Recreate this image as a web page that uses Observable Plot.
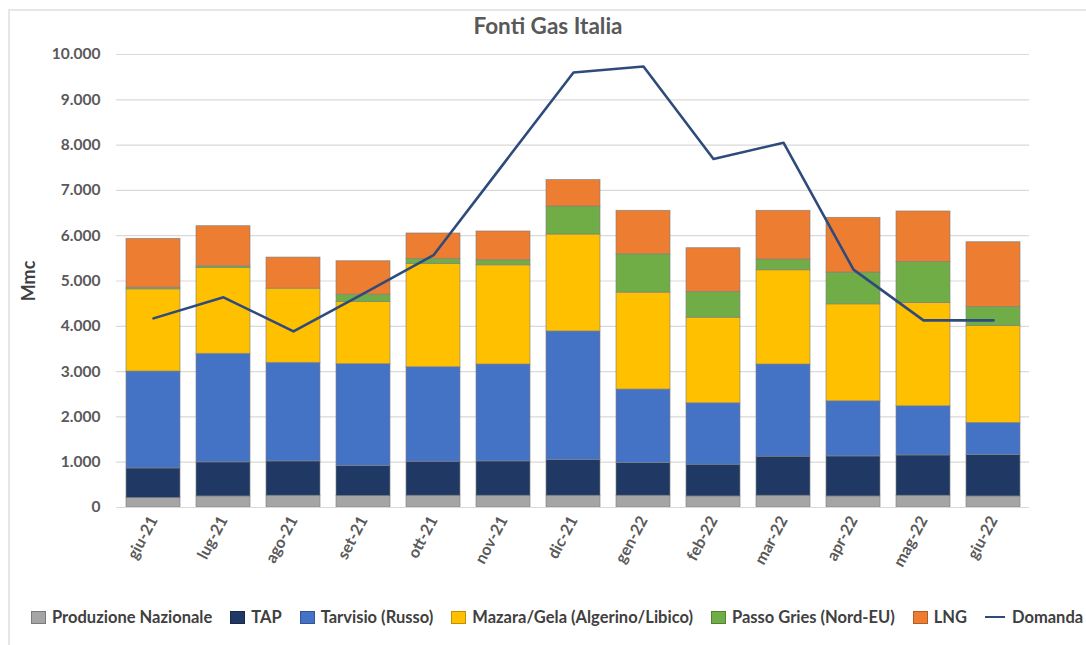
<!DOCTYPE html>
<html>
<head>
<meta charset="utf-8">
<script src="https://cdn.jsdelivr.net/npm/d3@7"></script>
<script src="https://cdn.jsdelivr.net/npm/@observablehq/plot@0.6"></script>
<style>
  html, body { margin: 0; padding: 0; background: #fff; }
  body { width: 1086px; height: 645px; overflow: hidden; font-family: Lato, "Open Sans", sans-serif; }
  #frame { position: absolute; left: 8px; top: 9px; width: 1100px; height: 700px;
           border-left: 2px solid #e6e6e6; border-top: 2px solid #e6e6e6; }
  #wrap { position: absolute; left: 0; top: 0; width: 1086px; }
  #title { height: 40px; line-height: 52px; text-align: center; font-weight: 700; font-size: 22.5px; color: #595959; padding-left: 10px; }
  #legend { position: absolute; left: 31px; top: 607px; display: flex; align-items: center;
            font-size: 16.5px; font-weight: 700; color: #404040; white-space: nowrap; }
  .item { display: flex; align-items: center; margin-right: 18px; }
  .sw { width: 13px; height: 11px; margin-right: 6px; border: 1px solid rgba(0,0,0,0.25); }
  .ln { width: 20px; height: 0; border-top: 2.5px solid #2F4B7C; margin-right: 7px; }
</style>
</head>
<body>
<div id="frame"></div>
<div id="wrap">
  <div id="title">Fonti Gas Italia</div>
  <div id="chart"></div>
</div>
<div id="legend"></div>
<script>
const months = ["giu-21","lug-21","ago-21","set-21","ott-21","nov-21","dic-21","gen-22","feb-22","mar-22","apr-22","mag-22","giu-22"];

const seriesNames = ["Produzione Nazionale","TAP","Tarvisio (Russo)","Mazara/Gela (Algerino/Libico)","Passo Gries (Nord-EU)","LNG"];
const seriesColors = ["#A5A5A5","#203864","#4472C4","#FFC000","#70AD47","#ED7D31"];

// values in Mmc (millions of cubic metres), per month
const produzioneNazionale = [208, 244, 259, 252, 259, 259, 259, 259, 244, 259, 244, 259, 244];
const tap                 = [655, 752, 759, 664, 752, 759, 789, 723, 701, 863, 884, 891, 915];
const tarvisio            = [2139, 2397, 2176, 2248, 2086, 2139, 2839, 1622, 1356, 2035, 1217, 1085, 708];
const mazaraGela          = [1814, 1895, 1637, 1372, 2279, 2190, 2139, 2139, 1889, 2080, 2140, 2278, 2138];
const passoGries          = [37, 37, 0, 163, 111, 111, 619, 847, 567, 236, 701, 907, 420];
const lng                 = [1077, 885, 686, 737, 562, 635, 583, 959, 967, 1076, 1208, 1115, 1431];
const domanda             = [4175, 4640, 3887, 4723, 5569, 7586, 9602, 9735, 7692, 8053, 5252, 4131, 4131];

const yTicks = [0,1000,2000,3000,4000,5000,6000,7000,8000,9000,10000];

const seriesValues = [produzioneNazionale, tap, tarvisio, mazaraGela, passoGries, lng];
const rows = [];
months.forEach((m, i) => {
  seriesNames.forEach((s, j) => rows.push({month: m, series: s, value: seriesValues[j][i]}));
});
const demandRows = months.map((m, i) => ({month: m, value: domanda[i]}));

const itFmt = d => d3.format(",")(d).replace(/,/g, ".");

const plot = Plot.plot({
  width: 1086,
  height: 545,
  marginTop: 14,
  marginBottom: 78,
  marginLeft: 116,
  marginRight: 57,
  style: {fontFamily: "Lato, 'Open Sans', sans-serif", fontSize: "15px", fontWeight: "700", color: "#595959", background: "transparent"},
  x: {type: "band", domain: months, paddingInner: 0.23, paddingOuter: 0.115},
  y: {domain: [0, 10000]},
  color: {domain: seriesNames, range: seriesColors},
  marks: [
    Plot.gridY(yTicks, {stroke: "#d9d9d9", strokeOpacity: 1, strokeWidth: 1.2}),
    Plot.barY(rows, {x: "month", y: "value", fill: "series", stroke: "#7f7f7f", strokeWidth: 0.8, strokeOpacity: 0.8}),
    Plot.ruleY([0], {stroke: "#d9d9d9", strokeWidth: 1.2}),
    Plot.line(demandRows, {x: "month", y: "value", stroke: "#2F4B7C", strokeWidth: 2.6}),
    Plot.axisY(yTicks, {tickSize: 0, tickPadding: 16, tickFormat: itFmt, fontSize: 15.5, fill: "#595959",
      label: "Mmc", labelAnchor: "center", labelArrow: "none", labelOffset: 94}),
    Plot.axisX({tickSize: 0, tickRotate: -62, tickPadding: 10, fontSize: 16, fill: "#595959", label: null})
  ]
});
document.getElementById("chart").appendChild(plot);
// enlarge the y-axis label
plot.querySelectorAll("[aria-label='y-axis label'] text, [aria-label='y-axis label']").forEach(n => {
  n.style.fontSize = "18px"; n.style.fill = "#404040"; n.style.fontWeight = "700";
});

const legend = document.getElementById("legend");
seriesNames.forEach((s, j) => {
  const it = document.createElement("div");
  it.className = "item";
  const sw = document.createElement("span");
  sw.className = "sw";
  sw.style.background = seriesColors[j];
  it.appendChild(sw);
  it.appendChild(document.createTextNode(s));
  legend.appendChild(it);
});
const it = document.createElement("div");
it.className = "item";
const ln = document.createElement("span");
ln.className = "ln";
it.appendChild(ln);
it.appendChild(document.createTextNode("Domanda"));
legend.appendChild(it);
</script>
</body>
</html>
